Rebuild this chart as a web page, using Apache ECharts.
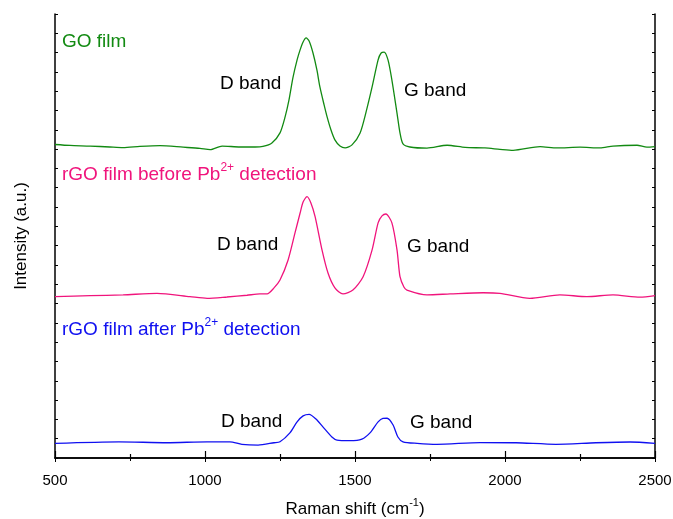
<!DOCTYPE html>
<html>
<head>
<meta charset="utf-8">
<script src="https://cdn.jsdelivr.net/npm/echarts@6/dist/echarts.min.js"></script>
<style>
	html, body { margin: 0; padding: 0; background: #fff; }
	#main { width: 673px; height: 519px; }
</style>
</head>
<body>
<div id="main"></div>
<script>
	// Raman shift (cm-1) and intensity (a.u., curves already offset)
	var shiftGO = [500, 550, 617, 683, 727, 783, 850, 927, 983, 1017, 1057, 1117, 1167, 1193, 1223, 1250, 1267, 1280, 1293, 1307, 1317, 1327, 1337, 1347, 1360, 1373, 1383, 1397, 1407, 1420, 1433, 1450, 1467, 1490, 1517, 1537, 1557, 1577, 1587, 1597, 1610, 1623, 1640, 1650, 1660, 1683, 1740, 1807, 1867, 1933, 1983, 2027, 2117, 2173, 2250, 2317, 2360, 2440, 2473, 2500]
	var goFilm = [1624, 1619, 1616, 1611, 1608, 1614, 1618, 1610, 1604, 1597, 1616, 1611, 1611, 1614, 1632, 1684, 1767, 1855, 1969, 2062, 2114, 2155, 2176, 2160, 2098, 2010, 1922, 1829, 1767, 1699, 1648, 1616, 1606, 1622, 1684, 1793, 1922, 2062, 2098, 2103, 2062, 1958, 1787, 1684, 1627, 1611, 1605, 1620, 1609, 1606, 1599, 1594, 1613, 1606, 1610, 1606, 1616, 1620, 1610, 1613]

	var shiftBefore = [500, 617, 727, 840, 950, 1007, 1073, 1140, 1183, 1207, 1230, 1250, 1277, 1300, 1317, 1327, 1340, 1353, 1367, 1390, 1410, 1433, 1460, 1493, 1527, 1557, 1577, 1590, 1603, 1623, 1640, 1650, 1663, 1673, 1740, 1817, 1927, 1983, 2083, 2183, 2273, 2360, 2450, 2500]
	var rgoBefore = [836, 841, 845, 853, 836, 827, 834, 843, 850, 850, 881, 922, 1026, 1166, 1269, 1326, 1354, 1321, 1250, 1078, 958, 881, 850, 870, 939, 1078, 1218, 1254, 1264, 1218, 1078, 939, 886, 870, 845, 850, 856, 853, 827, 845, 836, 845, 833, 841]

	var shiftAfter = [500, 713, 873, 1007, 1083, 1123, 1177, 1230, 1250, 1283, 1307, 1327, 1347, 1370, 1393, 1423, 1440, 1483, 1523, 1550, 1577, 1593, 1607, 1627, 1643, 1660, 1707, 1773, 1917, 2037, 2170, 2303, 2417, 2500]
	var rgoAfter = [76, 84, 79, 84, 84, 71, 67, 79, 84, 130, 187, 218, 226, 202, 161, 109, 93, 90, 98, 130, 187, 205, 206, 171, 109, 84, 76, 71, 80, 79, 71, 79, 83, 76]

	var xTicks = [500, 1000, 1500, 2000, 2500]

	function pairs(xs, ys) {
		return xs.map(function (x, i) { return [x, ys[i]] })
	}

	var font = '"Liberation Sans", Arial, sans-serif'
	var chart = echarts.init(document.getElementById('main'))

	function lineSeries(name, xs, ys, color) {
		return {
			name: name,
			type: 'line',
			data: pairs(xs, ys),
			symbol: 'none',
			smooth: 0.25,
			lineStyle: { color: color, width: 1.3 },
			animation: false
		}
	}

	function label(x, y, color, text) {
		return {
			type: 'text',
			x: x,
			y: y,
			style: {
				text: text,
				fill: color,
				font: '19px ' + font,
				lineHeight: 26,
				textVerticalAlign: 'middle',
				rich: {
					sup: { fontSize: 12, fontFamily: font, fill: color, verticalAlign: 'top', lineHeight: 12 }
				}
			}
		}
	}

	var axisCommon = {
		axisLine: { show: true, lineStyle: { color: '#000', width: 1.5 } },
		splitLine: { show: false }
	}

	var option = {
		backgroundColor: '#fff',
		grid: { left: 55, right: 18, top: 14, bottom: 61, outerBoundsMode: 'none' },
		xAxis: [
			Object.assign({
				type: 'value',
				min: 500,
				max: 2500,
				interval: 500,
				position: 'bottom',
				name: 'Raman shift (cm{sup|-1})',
				nameLocation: 'middle',
				nameGap: 39,
				nameTextStyle: {
					fontSize: 17, fontFamily: font, color: '#000', lineHeight: 24,
					rich: { sup: { fontSize: 11, fontFamily: font, color: '#000', verticalAlign: 'top', lineHeight: 11 } }
				},
				axisTick: { inside: true, length: 7, lineStyle: { color: '#000', width: 1.2 } },
				minorTick: { show: true, splitNumber: 2, length: 4, lineStyle: { color: '#000', width: 1.2 } },
				axisLabel: {
					fontSize: 15, fontFamily: font, color: '#000', margin: 15,
					formatter: function (v) { return xTicks.indexOf(v) >= 0 ? v : '' }
				}
			}, axisCommon),
			Object.assign({
				type: 'value',
				min: 500,
				max: 2500,
				interval: 500,
				position: 'top',
				axisTick: { inside: true, length: 4, lineStyle: { color: '#000' } },
				minorTick: { show: true, splitNumber: 2, length: 3, lineStyle: { color: '#000' } },
				axisLabel: { show: false }
			}, axisCommon)
		],
		yAxis: [
			Object.assign({
				type: 'value',
				min: 0,
				max: 2300,
				interval: 100,
				position: 'left',
				name: 'Intensity (a.u.)',
				nameLocation: 'middle',
				nameGap: 25,
				nameTextStyle: { fontSize: 17, fontFamily: font, color: '#000' },
				axisTick: { inside: true, length: 3, lineStyle: { color: '#000' } },
				axisLabel: { show: false }
			}, axisCommon),
			Object.assign({
				type: 'value',
				min: 0,
				max: 2300,
				interval: 100,
				position: 'right',
				axisTick: { inside: true, length: 3, lineStyle: { color: '#000' } },
				axisLabel: { show: false }
			}, axisCommon)
		],
		series: [
			lineSeries('GO film', shiftGO, goFilm, '#128a12'),
			lineSeries('rGO film before', shiftBefore, rgoBefore, '#f0147c'),
			lineSeries('rGO film after', shiftAfter, rgoAfter, '#1010f0')
		],
		graphic: [
			label(62, 42, '#128a12', 'GO film'),
			label(220, 84, '#000', 'D band'),
			label(404, 91, '#000', 'G band'),
			label(62, 175, '#f0147c', 'rGO film before Pb{sup|2+} detection'),
			label(217, 245, '#000', 'D band'),
			label(407, 247, '#000', 'G band'),
			label(62, 330, '#1010f0', 'rGO film after Pb{sup|2+} detection'),
			label(221, 422, '#000', 'D band'),
			label(410, 423, '#000', 'G band')
		]
	}
	chart.setOption(option)
</script>
</body>
</html>
